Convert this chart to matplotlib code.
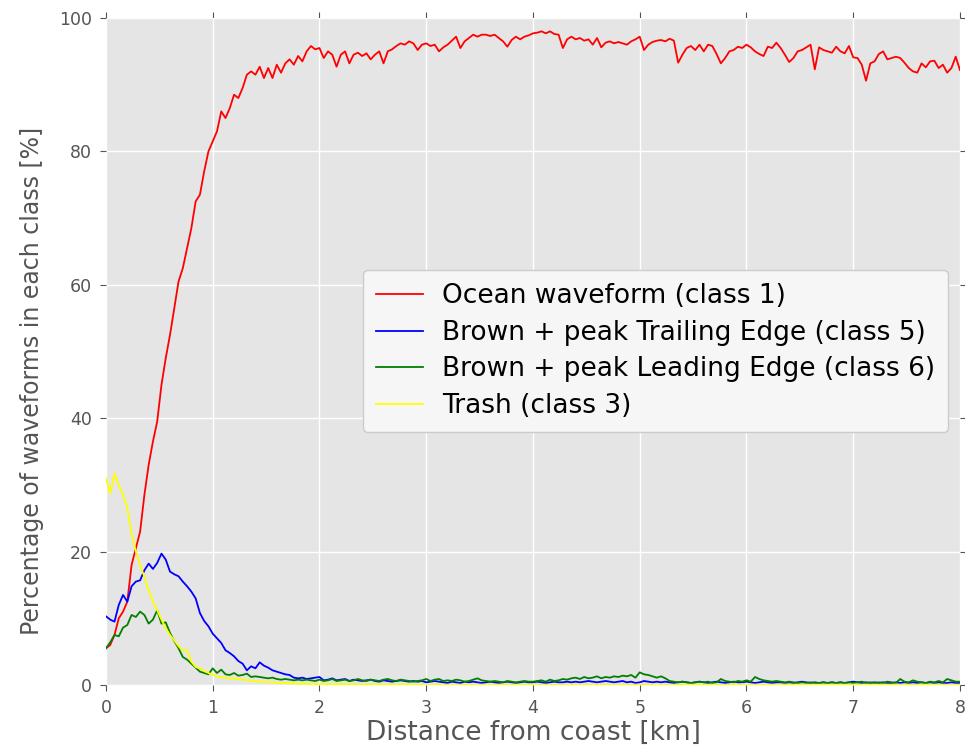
import numpy as np
import matplotlib
matplotlib.use("Agg")
import matplotlib.pyplot as plt

# percentages, one value every 0.04 km (0 .. 8 km)
ocean = [
    5.5, 6.0, 7.5, 10.0, 11.0, 12.5, 18.0, 20.5, 23.0, 28.5,
    33.0, 36.5, 39.5, 45.0, 49.0, 52.5, 56.5, 60.5, 62.5, 65.5,
    68.5, 72.5, 73.5, 77.0, 80.0, 81.5, 83.0, 86.0, 85.0, 86.5,
    88.5, 88.0, 89.5, 91.5, 92.0, 91.5, 92.7, 91.0, 92.5, 91.0,
    93.0, 91.8, 93.2, 93.8, 93.0, 94.3, 93.5, 95.0, 95.8, 95.3,
    95.5, 94.0, 95.0, 94.5, 92.7, 94.5, 95.0, 93.2, 94.5, 94.8,
    94.3, 94.7, 93.8, 94.5, 95.0, 93.2, 95.0, 95.3, 95.8, 96.2,
    96.0, 96.5, 96.2, 95.2, 96.0, 96.2, 95.8, 96.0, 95.0, 95.6,
    96.0, 96.6, 97.2, 95.5, 96.5, 97.0, 97.5, 97.2, 97.5, 97.5,
    97.3, 97.5, 97.0, 96.5, 95.7, 96.7, 97.2, 96.8, 97.2, 97.4,
    97.7, 97.8, 98.0, 97.7, 98.0, 97.6, 97.5, 95.5, 96.8, 97.2,
    96.8, 97.0, 96.6, 96.8, 96.0, 97.0, 95.6, 96.3, 96.5, 96.2,
    96.4, 96.2, 96.0, 96.5, 96.8, 97.2, 95.2, 96.0, 96.4, 96.6,
    96.7, 96.5, 96.9, 96.6, 93.3, 94.5, 95.5, 95.8, 95.2, 96.0,
    95.0, 96.0, 95.8, 94.6, 93.2, 94.0, 95.0, 95.2, 95.7, 95.5,
    96.0, 95.6, 95.0, 94.6, 94.3, 95.7, 95.5, 96.3, 95.5, 94.5,
    93.4, 94.0, 95.0, 95.2, 95.6, 96.0, 92.3, 95.6, 95.2, 95.0,
    94.8, 95.7, 95.0, 94.7, 95.8, 94.1, 94.0, 93.0, 90.6, 93.2,
    93.5, 94.6, 95.0, 93.8, 94.0, 94.2, 94.0, 93.3, 92.5, 92.0,
    91.8, 93.2, 92.6, 93.5, 93.6, 92.5, 93.0, 91.8, 92.5, 94.2,
    92.2,
]

trailing = [
    10.3, 9.8, 9.5, 12.0, 13.5, 12.5, 14.8, 15.5, 15.7, 17.2,
    18.2, 17.4, 18.3, 19.7, 18.8, 17.0, 16.6, 16.3, 15.5, 14.8,
    14.0, 13.0, 10.8, 9.6, 8.8, 7.7, 7.0, 6.3, 5.2, 4.8,
    4.3, 3.6, 3.2, 2.2, 2.8, 2.5, 3.4, 2.9, 2.6, 2.2,
    2.0, 1.8, 1.6, 1.5, 1.1, 1.0, 1.1, 0.9, 1.0, 1.1,
    1.2, 0.7, 0.8, 1.0, 0.7, 0.8, 0.9, 0.6, 0.8, 0.7,
    0.6, 0.7, 0.8, 0.6, 0.5, 0.7, 0.6, 0.5, 0.6, 0.7,
    0.6, 0.5, 0.6, 0.5, 0.6, 0.4, 0.5, 0.6, 0.5, 0.4,
    0.3, 0.5, 0.4, 0.3, 0.5, 0.4, 0.5, 0.4, 0.3, 0.4,
    0.5, 0.4, 0.3, 0.4, 0.5, 0.4, 0.3, 0.4, 0.5, 0.4,
    0.4, 0.5, 0.4, 0.3, 0.4, 0.5, 0.4, 0.4, 0.5, 0.4,
    0.5, 0.4, 0.5, 0.6, 0.5, 0.4, 0.5, 0.6, 0.5, 0.4,
    0.5, 0.6, 0.4, 0.5, 0.3, 0.4, 0.6, 0.5, 0.4, 0.5,
    0.4, 0.5, 0.4, 0.3, 0.4, 0.5, 0.4, 0.3, 0.4, 0.5,
    0.4, 0.3, 0.4, 0.5, 0.4, 0.3, 0.4, 0.5, 0.4, 0.4,
    0.5, 0.4, 0.3, 0.4, 0.5, 0.4, 0.3, 0.4, 0.4, 0.3,
    0.4, 0.3, 0.4, 0.5, 0.4, 0.3, 0.4, 0.3, 0.4, 0.3,
    0.4, 0.3, 0.4, 0.3, 0.4, 0.5, 0.4, 0.3, 0.4, 0.3,
    0.4, 0.3, 0.4, 0.3, 0.3, 0.4, 0.3, 0.4, 0.3, 0.4,
    0.3, 0.4, 0.3, 0.4, 0.3, 0.4, 0.3, 0.3, 0.4, 0.3,
    0.3,
]

leading = [
    5.5, 6.4, 7.5, 7.3, 8.6, 9.0, 10.5, 10.2, 11.0, 10.5,
    9.2, 9.8, 11.2, 9.2, 9.4, 7.8, 6.6, 5.5, 4.2, 3.8,
    3.2, 2.6, 2.0, 1.8, 1.6, 2.5, 1.8, 2.3, 1.6, 1.5,
    1.8, 1.4, 1.5, 1.7, 1.2, 1.3, 1.2, 1.1, 1.0, 1.1,
    0.9, 0.8, 0.9, 0.8, 0.7, 0.8, 0.7, 0.8, 0.7, 0.6,
    0.8, 0.6, 0.7, 0.9, 0.6, 0.7, 0.8, 0.6, 0.7, 0.9,
    0.7, 0.6, 0.8, 0.7, 0.6, 0.8, 0.9, 0.7, 0.6, 0.8,
    0.7, 0.6, 0.5, 0.6, 0.7, 0.9, 0.6, 0.8, 0.9, 0.6,
    0.7, 0.6, 0.8, 0.7, 0.5, 0.6, 0.8, 1.0, 0.7, 0.6,
    0.5, 0.6, 0.5, 0.4, 0.6, 0.5, 0.4, 0.5, 0.6, 0.5,
    0.5, 0.6, 0.7, 0.5, 0.8, 0.6, 0.7, 0.9, 0.8, 1.0,
    1.1, 0.9, 1.2, 1.0, 1.1, 1.3, 1.0, 1.2, 1.1, 1.3,
    1.2, 1.4, 1.3, 1.5, 1.1, 1.9, 1.6, 1.5, 1.3, 1.1,
    1.3, 1.0, 0.6, 0.5, 0.4, 0.5, 0.4, 0.3, 0.4, 0.5,
    0.4, 0.5, 0.3, 0.4, 0.9, 0.6, 0.5, 0.4, 0.6, 0.5,
    0.7, 0.5, 1.2, 0.9, 0.7, 0.6, 0.5, 0.6, 0.5, 0.4,
    0.5, 0.4, 0.3, 0.4, 0.3, 0.4, 0.3, 0.3, 0.4, 0.3,
    0.4, 0.3, 0.4, 0.3, 0.4, 0.3, 0.4, 0.5, 0.3, 0.4,
    0.3, 0.4, 0.3, 0.5, 0.4, 0.3, 0.9, 0.5, 0.4, 0.7,
    0.5, 0.4, 0.3, 0.5, 0.4, 0.6, 0.4, 0.9, 0.7, 0.5,
    0.5,
]

trash = [
    31.0, 28.7, 31.7, 30.0, 28.5, 26.5, 22.7, 20.0, 18.0, 16.2,
    14.2, 12.5, 11.2, 9.8, 8.5, 7.5, 6.7, 5.8, 5.2, 5.2,
    3.5, 2.7, 2.5, 2.1, 1.8, 1.5, 1.3, 1.2, 1.1, 1.0,
    1.0, 0.9, 0.8, 0.7, 0.65, 0.6, 0.5, 0.5, 0.45, 0.4,
    0.35, 0.3, 0.3, 0.25, 0.25, 0.2, 0.2, 0.2, 0.15, 0.15,
    0.1, 0.15, 0.1, 0.1, 0.1, 0.15, 0.1, 0.1, 0.1, 0.1,
    0.1, 0.1, 0.05, 0.1, 0.1, 0.05, 0.1, 0.1, 0.05, 0.1,
    0.05, 0.1, 0.05, 0.05, 0.1, 0.05, 0.05, 0.05, 0.1, 0.05,
    0.05, 0.05, 0.05, 0.05, 0.05, 0.05, 0.05, 0.05, 0.05, 0.05,
    0.05, 0.05, 0.05, 0.05, 0.05, 0.05, 0.05, 0.05, 0.05, 0.05,
    0.05, 0.05, 0.05, 0.05, 0.05, 0.05, 0.05, 0.05, 0.05, 0.05,
    0.05, 0.05, 0.05, 0.05, 0.05, 0.05, 0.05, 0.05, 0.05, 0.05,
    0.05, 0.05, 0.05, 0.05, 0.05, 0.05, 0.05, 0.05, 0.05, 0.05,
    0.05, 0.05, 0.05, 0.05, 0.05, 0.05, 0.05, 0.05, 0.05, 0.05,
    0.05, 0.05, 0.05, 0.05, 0.05, 0.05, 0.05, 0.05, 0.05, 0.05,
    0.05, 0.05, 0.05, 0.05, 0.05, 0.05, 0.05, 0.05, 0.05, 0.05,
    0.05, 0.05, 0.05, 0.05, 0.05, 0.05, 0.05, 0.05, 0.05, 0.05,
    0.05, 0.05, 0.05, 0.05, 0.05, 0.05, 0.05, 0.05, 0.05, 0.05,
    0.05, 0.05, 0.05, 0.05, 0.05, 0.05, 0.05, 0.05, 0.05, 0.05,
    0.05, 0.05, 0.05, 0.05, 0.05, 0.05, 0.05, 0.05, 0.05, 0.05,
    0.05,
]

labels = ["Ocean waveform (class 1)",
          "Brown + peak Trailing Edge (class 5)",
          "Brown + peak Leading Edge (class 6)",
          "Trash (class 3)"]
colours = ["#ff0000", "#0000ff", "#008000", "#ffff00"]

dist = np.linspace(0, 8, len(ocean))  # km from coast

fig = plt.figure(figsize=(9.65, 7.47), dpi=100)
ax = fig.add_axes([0.1098, 0.083, 0.885, 0.8929])
ax.set_facecolor("#e5e5e5")
for s in ax.spines.values():
    s.set_visible(False)
ax.grid(True, color="white", lw=1.0)
ax.set_axisbelow(True)

for series, lab, c in zip([ocean, trailing, leading, trash], labels, colours):
    ax.plot(dist, series, color=c, lw=1.3, label=lab)

ax.set_xlim(0, 8)
ax.set_ylim(0, 100)
ax.set_xticks(range(0, 9))
ax.set_yticks(range(0, 101, 20))
ax.tick_params(direction="out", colors="#555555", labelsize=12.5,
               top=True, right=True, length=4)
ax.tick_params(axis="x", pad=6)
ax.tick_params(axis="y", pad=6)

ax.set_xlabel("Distance from coast [km]", fontsize=19, color="#555555")
ax.set_ylabel("Percentage of waveforms in each class [%]", fontsize=17,
              color="#555555")
ax.yaxis.set_label_coords(-0.072, 0.456)
ax.xaxis.set_label_coords(0.5, -0.052)

leg = ax.legend(loc="lower right", bbox_to_anchor=(0.986, 0.379),
                borderaxespad=0, fontsize=19, frameon=True,
                handlelength=1.8, handletextpad=0.7,
                borderpad=0.5, labelspacing=0.4)
leg.get_frame().set_facecolor("#f6f6f6")
leg.get_frame().set_edgecolor("#cccccc")
leg.get_frame().set_alpha(1.0)

fig.savefig("out.png", dpi=100)
